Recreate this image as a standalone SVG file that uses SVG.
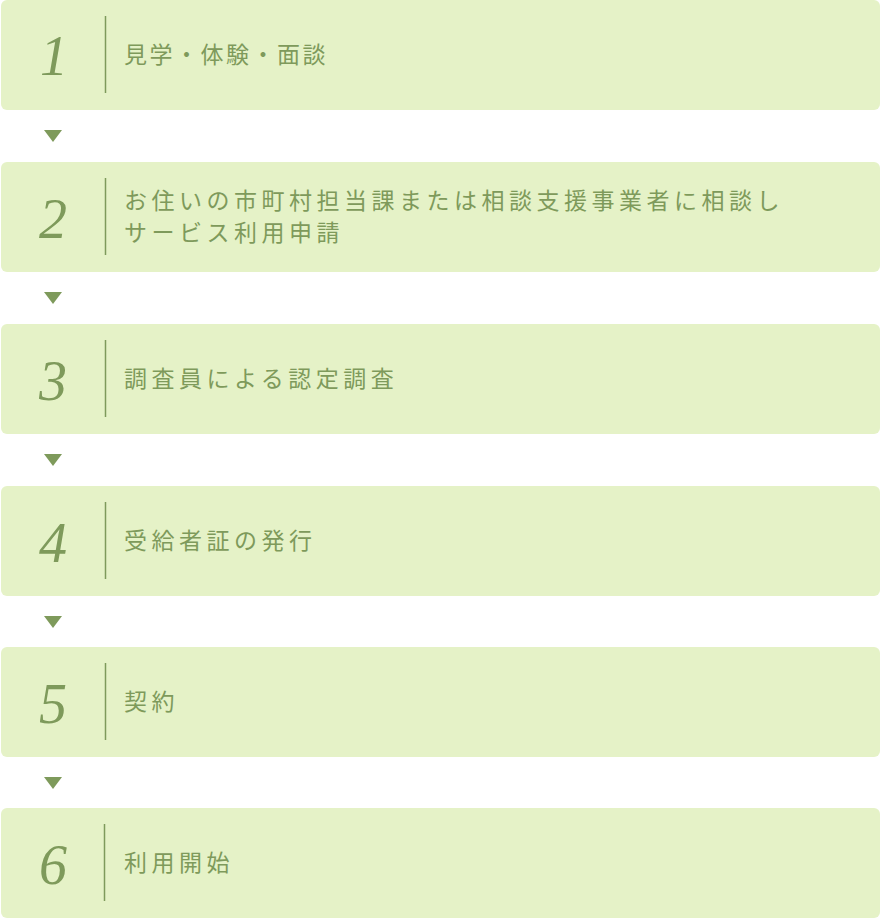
<svg xmlns="http://www.w3.org/2000/svg" width="881" height="918" viewBox="0 0 881 918">
<style>
.box{fill:#e5f2c7}
.num{font-family:"Liberation Serif","DejaVu Serif",serif;font-style:italic;font-size:56px;fill:#7e9a5b;text-anchor:middle}
.div{stroke:#7e9a5b;stroke-width:1.5}
.lbl{font-family:"Noto Sans CJK JP","Noto Sans",sans-serif;font-size:23px;font-weight:400;letter-spacing:4.5px;fill:#7e9a5b}
.arr{fill:#7e9a5b}
</style>
<rect width="881" height="918" fill="#ffffff"/>
<g id="connectors">
<polygon class="arr" points="44,130 62,130 53,142"/>
<polygon class="arr" points="44,292 62,292 53,304"/>
<polygon class="arr" points="44,454 62,454 53,466"/>
<polygon class="arr" points="44,616 62,616 53,628"/>
<polygon class="arr" points="44,777 62,777 53,789"/>
</g>
<g id="step1">
<rect class="box" x="1" y="0" width="879" height="110" rx="6"/>
<text class="num" x="54" y="75">1</text>
<line class="div" x1="105.5" y1="16" x2="105.5" y2="93"/>
<text class="lbl" x="124" y="63" style="letter-spacing:2.5px">見学・体験・面談</text>
</g>
<g id="step2">
<rect class="box" x="1" y="162" width="879" height="110" rx="6"/>
<text class="num" x="53" y="238">2</text>
<line class="div" x1="105.5" y1="178" x2="105.5" y2="255"/>
<text class="lbl" x="124" y="209">お住いの市町村担当課または相談支援事業者に相談し</text>
<text class="lbl" x="124" y="241">サービス利用申請</text>
</g>
<g id="step3">
<rect class="box" x="1" y="324" width="879" height="110" rx="6"/>
<text class="num" x="53" y="400">3</text>
<line class="div" x1="105.5" y1="340" x2="105.5" y2="417"/>
<text class="lbl" x="124" y="387">調査員による認定調査</text>
</g>
<g id="step4">
<rect class="box" x="1" y="486" width="879" height="110" rx="6"/>
<text class="num" x="53" y="562">4</text>
<line class="div" x1="105.5" y1="502" x2="105.5" y2="579"/>
<text class="lbl" x="124" y="549">受給者証の発行</text>
</g>
<g id="step5">
<rect class="box" x="1" y="647" width="879" height="110" rx="6"/>
<text class="num" x="53" y="723">5</text>
<line class="div" x1="105.5" y1="663" x2="105.5" y2="740"/>
<text class="lbl" x="124" y="710">契約</text>
</g>
<g id="step6">
<rect class="box" x="1" y="808" width="879" height="110" rx="6"/>
<text class="num" x="53" y="884">6</text>
<line class="div" x1="104.5" y1="824" x2="104.5" y2="901"/>
<text class="lbl" x="124" y="871">利用開始</text>
</g>
</svg>
